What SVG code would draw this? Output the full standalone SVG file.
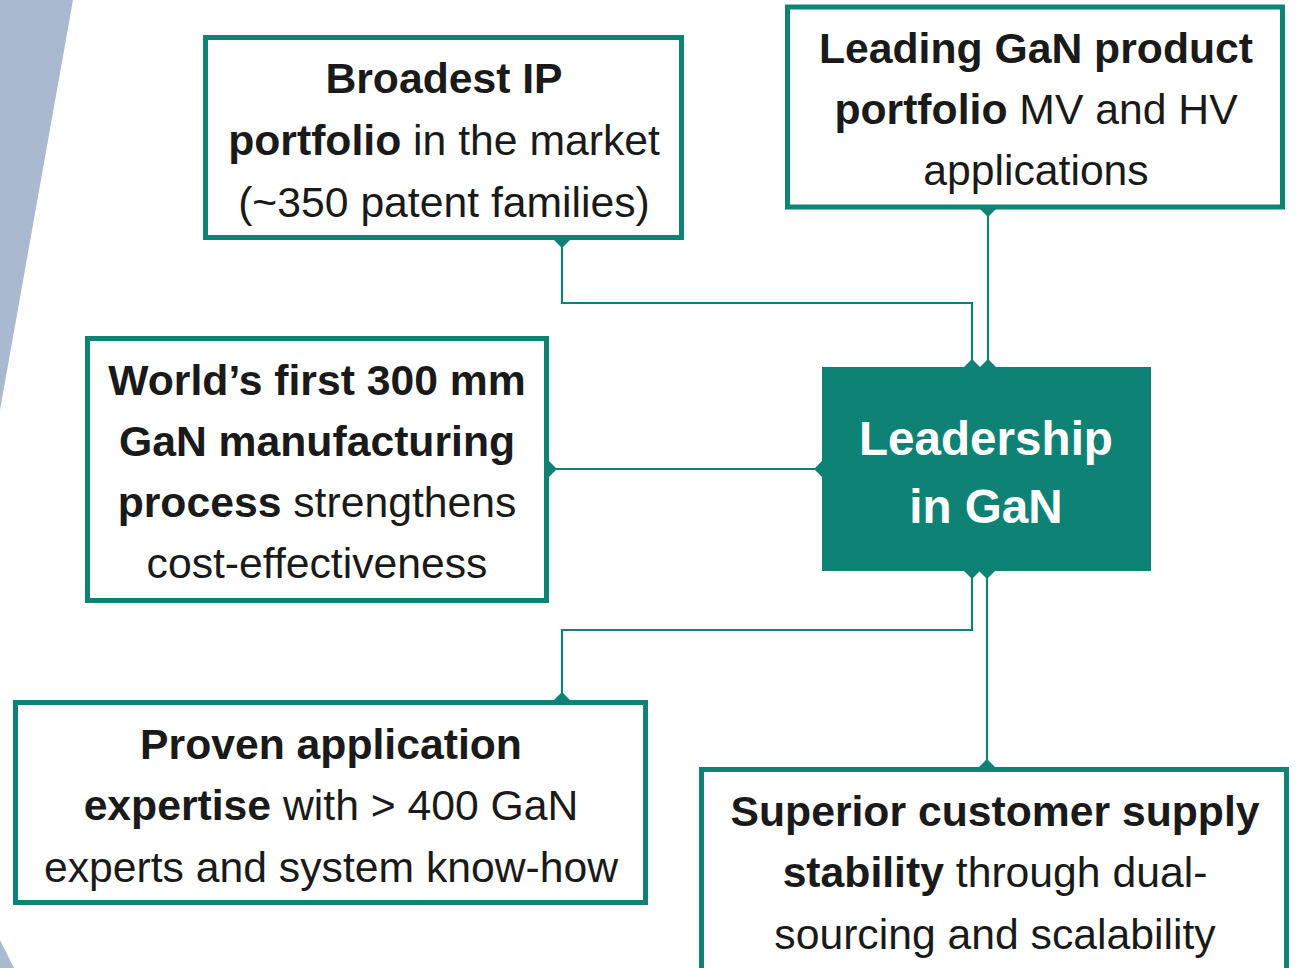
<svg xmlns="http://www.w3.org/2000/svg" width="1301" height="968" viewBox="0 0 1301 968">
  <defs>
    <style>
      .box { fill: #ffffff; stroke: #0e8275; stroke-width: 5; }
      .hub { fill: #0e8275; }
      .link { fill: none; stroke: #0e8275; stroke-width: 2.2; marker-start: url(#tip); marker-end: url(#tip); }
      .t { font-family: "Liberation Sans", Arial, sans-serif; font-size: 42.7px; fill: #1a1a1a; text-anchor: middle; }
      .b { font-weight: bold; }
      .hubtext { font-family: "Liberation Sans", Arial, sans-serif; font-size: 47.6px; font-weight: bold; fill: #ffffff; text-anchor: middle; }
      .deco { fill: #a9b9cf; }
    </style>
    <marker id="tip" markerUnits="userSpaceOnUse" markerWidth="18" markerHeight="18" refX="9" refY="9" orient="auto">
      <path d="M1,9 L9,1 L17,9 L9,17 Z" fill="#0e8275"/>
    </marker>
  </defs>

  <!-- background accents -->
  <polygon class="deco" points="0,0 73,0 0,410"/>
  <polygon class="deco" points="0,940 14,968 0,968"/>

  <!-- connectors -->
  <g id="connectors">
    <polyline class="link" points="562,240 562,303 972,303 972,367"/>
    <polyline class="link" points="988,209 988,367"/>
    <polyline class="link" points="549,469 822,469"/>
    <polyline class="link" points="972,571 972,630 562,630 562,700"/>
    <polyline class="link" points="987,571 987,767"/>
  </g>

  <g id="ip-portfolio">
    <rect class="box" x="205.5" y="37.5" width="476" height="200"/>
    <text class="t" x="444" y="93"><tspan class="b">Broadest IP</tspan></text>
    <text class="t" x="444" y="155"><tspan class="b">portfolio</tspan> in the market</text>
    <text class="t" x="444" y="217">(~350 patent families)</text>
  </g>

  <g id="product-portfolio">
    <rect class="box" x="787.5" y="7" width="495" height="200"/>
    <text class="t" x="1036" y="63"><tspan class="b">Leading GaN product</tspan></text>
    <text class="t" x="1036" y="124"><tspan class="b">portfolio</tspan> MV and HV</text>
    <text class="t" x="1036" y="185">applications</text>
  </g>

  <g id="manufacturing">
    <rect class="box" x="87.5" y="338.5" width="459" height="262"/>
    <text class="t" x="317" y="395"><tspan class="b">World’s first 300 mm</tspan></text>
    <text class="t" x="317" y="456"><tspan class="b">GaN manufacturing</tspan></text>
    <text class="t" x="317" y="517"><tspan class="b">process</tspan> strengthens</text>
    <text class="t" x="317" y="578">cost-effectiveness</text>
  </g>

  <g id="leadership">
    <rect class="hub" x="822" y="367" width="329" height="204"/>
    <text class="hubtext" x="986" y="455">Leadership</text>
    <text class="hubtext" x="986" y="523">in GaN</text>
  </g>

  <g id="application-expertise">
    <rect class="box" x="15.5" y="702.5" width="630" height="200"/>
    <text class="t" x="331" y="759"><tspan class="b">Proven application</tspan></text>
    <text class="t" x="331" y="820"><tspan class="b">expertise</tspan> with &gt; 400 GaN</text>
    <text class="t" x="331" y="882">experts and system know-how</text>
  </g>

  <g id="supply-stability">
    <rect class="box" x="701.5" y="769.5" width="585" height="215"/>
    <text class="t" x="995" y="826"><tspan class="b">Superior customer supply</tspan></text>
    <text class="t" x="995" y="887"><tspan class="b">stability</tspan> through dual-</text>
    <text class="t" x="995" y="949">sourcing and scalability</text>
  </g>
</svg>
